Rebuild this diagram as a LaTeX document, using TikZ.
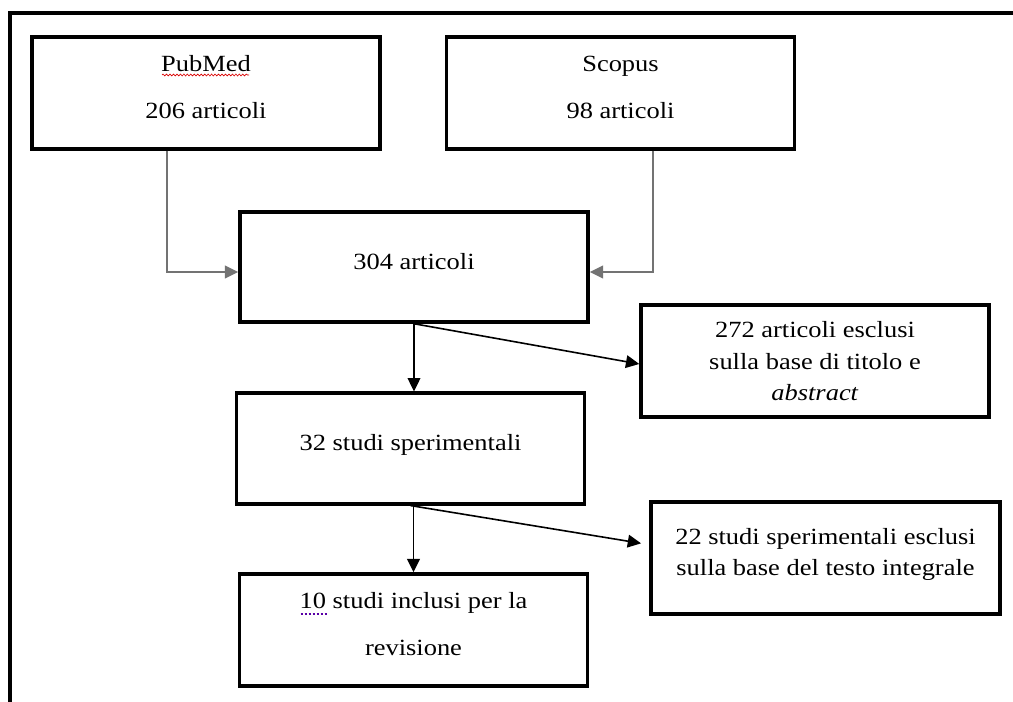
\documentclass[tikz,border=0pt]{standalone}
\usepackage{fontspec}
\setmainfont{Liberation Serif}[FakeStretch=1.14]
\usetikzlibrary{arrows.meta,decorations.pathmorphing}

\newcommand{\dblspaced}{\fontsize{17.4}{35}\selectfont}
\newcommand{\sglspaced}{\fontsize{17.4}{23.4}\selectfont}

\begin{document}
\begin{tikzpicture}[
    x=0.75pt, y=-0.75pt,
    box/.style={rectangle, draw=black, line width=2.6pt, minimum width=261pt, minimum height=84pt, align=center, inner sep=3pt, text depth=9pt},
    dblbox/.style={box, font=\dblspaced},
    sglbox/.style={box, font=\sglspaced},
    feed/.style={draw=black!55, line width=1.3pt, -{Triangle[length=10pt,width=9.5pt]}},
    flow/.style={draw=black, line width=1.2pt, -{Triangle[length=10pt,width=9.5pt]}},
    frame/.style={draw=black, line width=2.6pt},
    spellmark/.style={draw=red!85!black, line width=0.5pt, decorate, decoration={snake, amplitude=0.7pt, segment length=2.6pt}},
    grammark/.style={draw=blue!65!red, line width=0.8pt, dash pattern=on 2.2pt off 0.8pt}
]
\useasboundingbox (0,0) rectangle (1013,702);

% Outer frame
\draw[frame] (10,702) -- (10,13) -- (1013,13);

% Sources
\node[dblbox] (pubmed) at (206,93)   {PubMed\\206 articoli};
\node[dblbox] (scopus) at (620.5,93) {Scopus\\98 articoli};

% Screening
\node[dblbox, minimum height=82.5pt] (total) at (414,267) {304 articoli};
\node[dblbox, minimum height=83pt]   (studi) at (410.5,448.5) {32 studi sperimentali};
\node[dblbox] (incl) at (413.5,630) {10 studi inclusi per la\\revisione};

% Exclusions
\node[sglbox, text depth=0pt] (excl1) at (815,361) {272 articoli esclusi\\sulla base di titolo e\\\textit{abstract}};
\node[sglbox, minimum width=262pt] (excl2) at (825.5,558) {22 studi sperimentali esclusi\\sulla base del testo integrale};

% Spell-check marks
\draw[spellmark] ([shift={(-44,-18)}]pubmed.center) -- ([shift={(43,-18)}]pubmed.center);
\draw[grammark] ([shift={(-113,-16)}]incl.center) -- ([shift={(-86,-16)}]incl.center);

% Sources to total
\draw[feed] ([xshift=-29.25pt]pubmed.south) |- ([yshift=-3.75pt]total.west);
\draw[feed] ([xshift=24.4pt]scopus.south) |- ([yshift=-3.75pt]total.east);

% Down the chain
\draw[flow] (total.south) -- (total.south |- studi.north);
\draw[flow] (incl.north |- studi.south) -- (incl.north);

% Exclusions
\draw[flow] (total.south) -- ([yshift=-2.25pt]excl1.west);
\draw[flow] (studi.south) -- ([xshift=-6pt,yshift=11pt]excl2.west);

\end{tikzpicture}
\end{document}
